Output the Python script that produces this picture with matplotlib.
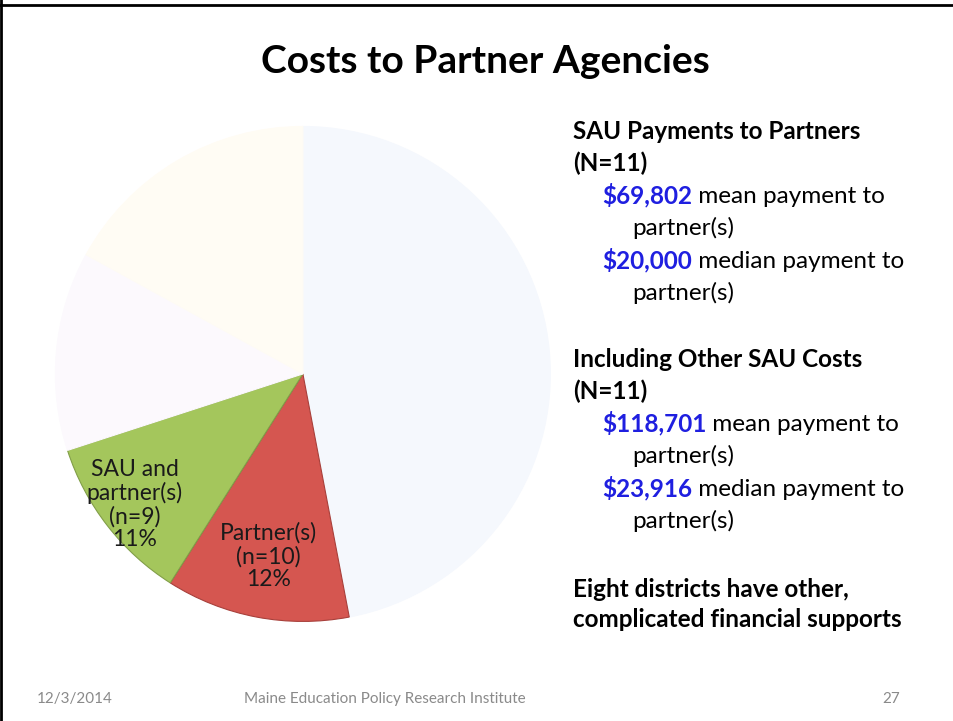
import matplotlib.pyplot as plt
from matplotlib.lines import Line2D
import numpy as np

plt.rcParams['font.family'] = ['Lato', 'DejaVu Sans']

# pie data (faded slices in the slide carry no readable labels)
names = ['', 'Partner(s)', 'SAU and\npartner(s)', '', '']
shares = [47, 12, 11, 13, 17]
counts = [None, 10, 9, None, None]
colors = ['#f5f8fd', '#d55650', '#a4c65c', '#fcf9fd', '#fffcf4']
edges = ['#f5f8fd', '#a8403b', '#819e48', '#fcf9fd', '#fffcf4']
label_dist = [0, 0.75, 0.86, 0, 0]

title = 'Costs to Partner Agencies'
sections = [
    ('SAU Payments to Partners', '(N=11)',
     [('$69,802', ' mean payment to'), ('$20,000', ' median payment to')]),
    ('Including Other SAU Costs', '(N=11)',
     [('$118,701', ' mean payment to'), ('$23,916', ' median payment to')]),
]
closing = ['Eight districts have other,', 'complicated financial supports']
footer = ['12/3/2014', 'Maine Education Policy Research Institute', '27']

fig = plt.figure(figsize=(9.54, 7.21), dpi=100)
fig.patch.set_facecolor('white')

ax = fig.add_axes([0.0555, 0.1346, 0.524, 0.6935])
wedges, _ = ax.pie(shares, colors=colors, startangle=90, counterclock=False,
                   radius=1, wedgeprops=dict(linewidth=0.8))
for w, ec in zip(wedges, edges):
    w.set_edgecolor(ec)
for w, name, n, pct, d in zip(wedges, names, counts, shares, label_dist):
    if n is None:
        continue
    ang = np.deg2rad((w.theta1 + w.theta2) / 2)
    ax.text(d * np.cos(ang), d * np.sin(ang), f'{name}\n(n={n})\n{pct}%',
            ha='center', va='center', fontsize=16.5, color='#1a1a1a', linespacing=1.1)
ax.set_xlim(-1.01, 1.01)
ax.set_ylim(-1.01, 1.01)
ax.set_aspect('equal')

# overlay in pixel units for the slide text
txt = fig.add_axes([0, 0, 1, 1])
txt.set_xlim(0, 954)
txt.set_ylim(721, 0)
txt.axis('off')
renderer = fig.canvas.get_renderer()

txt.text(485, 73, title, ha='center', va='baseline', fontsize=28, fontweight='bold')

body = 17.5
y = 139
for head, nline, items in sections:
    txt.text(573, y, head, va='baseline', fontsize=body, fontweight='bold')
    txt.text(573, y + 32, nline, va='baseline', fontsize=body, fontweight='bold')
    y += 64
    for val, rest in items:
        t = txt.text(602, y, val, va='baseline', fontsize=body, fontweight='bold', color='#1f1fe0')
        w = t.get_window_extent(renderer).width
        txt.text(602 + w, y, rest, va='baseline', fontsize=body)
        txt.text(632, y + 32, 'partner(s)', va='baseline', fontsize=body)
        y += 65
    y = 367
y = 597
for line in closing:
    txt.text(573, y, line, va='baseline', fontsize=body, fontweight='bold')
    y += 30

txt.text(37, 703, footer[0], va='baseline', fontsize=11, color='#8a8a8a')
txt.text(385, 703, footer[1], ha='center', va='baseline', fontsize=11, color='#8a8a8a')
txt.text(900, 703, footer[2], ha='right', va='baseline', fontsize=11, color='#8a8a8a')

# slide border (left and top only)
for xs, ys in [([1.5, 1.5], [0, 721]), ([0, 954], [5, 5])]:
    txt.add_line(Line2D(xs, ys, color='black', linewidth=2))

fig.savefig('out.png', dpi=100)
